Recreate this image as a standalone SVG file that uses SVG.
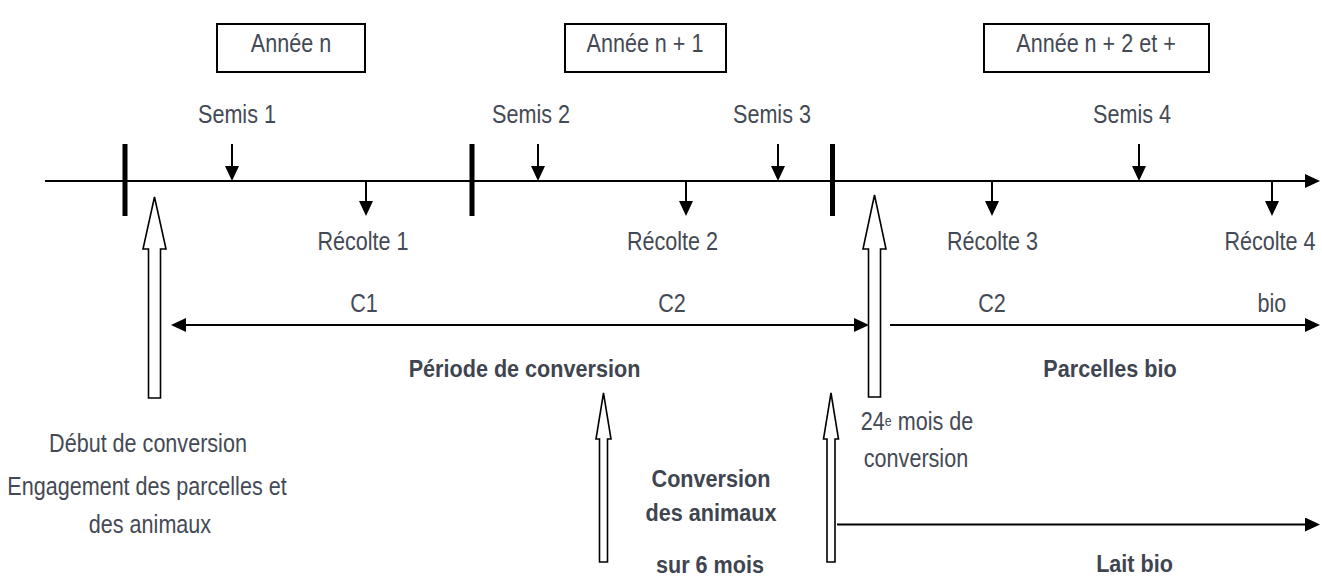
<svg xmlns="http://www.w3.org/2000/svg" width="1322" height="579" viewBox="0 0 1322 579">
<style>
  .ln { stroke: #000; stroke-width: 2; fill: none; }
  .box { stroke: #000; stroke-width: 2; fill: #fff; }
  .bar { fill: #000; }
  .blk { stroke: #000; stroke-width: 1.6; fill: #fff; stroke-linejoin: miter; }
  text { font-family: "Liberation Sans", Arial, sans-serif; font-size: 26px; fill: #444a55; text-anchor: middle; }
  .b { font-weight: bold; font-size: 24px; fill: #3f4550; }
</style>
<defs>
  <marker id="tri" viewBox="0 0 15 14" refX="4" refY="7" markerWidth="15" markerHeight="14" markerUnits="userSpaceOnUse" orient="auto-start-reverse">
    <path d="M0,0 L15,7 L0,14 Z" fill="#000"/>
  </marker>
</defs>
<rect width="1322" height="579" fill="#fff"/>

<g id="connectors">
  <line class="ln" x1="45" y1="181" x2="1309" y2="181" marker-end="url(#tri)"/>
  <line class="ln" x1="182" y1="325" x2="858" y2="325" marker-start="url(#tri)" marker-end="url(#tri)"/>
  <line class="ln" x1="890" y1="325" x2="1309" y2="325" marker-end="url(#tri)"/>
  <line class="ln" x1="837" y1="524.5" x2="1309" y2="524.5" marker-end="url(#tri)"/>
  <line class="ln" x1="232" y1="144" x2="232" y2="170" marker-end="url(#tri)"/>
  <line class="ln" x1="538" y1="144" x2="538" y2="170" marker-end="url(#tri)"/>
  <line class="ln" x1="778" y1="144" x2="778" y2="170" marker-end="url(#tri)"/>
  <line class="ln" x1="1139" y1="144" x2="1139" y2="170" marker-end="url(#tri)"/>
  <line class="ln" x1="366" y1="181" x2="366" y2="205" marker-end="url(#tri)"/>
  <line class="ln" x1="686" y1="181" x2="686" y2="205" marker-end="url(#tri)"/>
  <line class="ln" x1="992" y1="181" x2="992" y2="205" marker-end="url(#tri)"/>
  <line class="ln" x1="1272" y1="181" x2="1272" y2="205" marker-end="url(#tri)"/>
</g>

<g id="year-bars">
  <rect class="bar" x="122.5" y="144" width="5" height="72"/>
  <rect class="bar" x="469.5" y="144" width="5" height="72"/>
  <rect class="bar" x="830" y="144" width="5" height="72"/>
</g>

<g id="block-arrows">
  <path id="arrow-debut" class="blk" d="M148.5,398 L148.5,249 L143,249 L154.5,197 L166,249 L160.5,249 L160.5,398 Z"/>
  <path id="arrow-24" class="blk" d="M868.5,397 L868.5,249 L863,249 L874.5,195 L886,249 L880.5,249 L880.5,397 Z"/>
  <path id="arrow-anim1" class="blk" d="M599.5,562 L599.5,439 L596,439 L603.5,393 L611,439 L607.5,439 L607.5,562 Z"/>
  <path id="arrow-anim2" class="blk" d="M827,562 L827,439 L823.5,439 L831,393 L838.5,439 L835,439 L835,562 Z"/>
</g>

<g id="year-boxes">
  <rect class="box" x="217" y="24" width="148" height="48"/>
  <rect class="box" x="565" y="24" width="161" height="48"/>
  <rect class="box" x="984" y="24" width="225" height="48"/>
</g>

<g id="labels" transform="scale(0.83,1)">
  <g id="node-annee-n"><text x="350.6" y="52">Année n</text></g>
  <g id="node-annee-n1"><text x="777.1" y="52">Année n + 1</text></g>
  <g id="node-annee-n2"><text x="1320.5" y="52">Année n + 2 et +</text></g>

  <g id="node-semis"><text x="285.5" y="123">Semis 1</text>
  <text x="639.8" y="123">Semis 2</text>
  <text x="930.1" y="123">Semis 3</text>
  <text x="1363.9" y="123">Semis 4</text></g>

  <g id="node-recolte"><text x="437.3" y="250">Récolte 1</text>
  <text x="810.2" y="250">Récolte 2</text>
  <text x="1195.8" y="250">Récolte 3</text>
  <text x="1530.1" y="250">Récolte 4</text></g>

  <g id="node-phases"><text x="438.6" y="312">C1</text>
  <text x="809.6" y="312">C2</text>
  <text x="1195.2" y="312">C2</text>
  <text x="1532.5" y="312">bio</text></g>

  <g id="node-debut"><text x="178.3" y="452">Début de conversion</text>
  <text x="177.1" y="495">Engagement des parcelles et</text>
  <text x="180.7" y="533">des animaux</text></g>

  <g id="node-24"><text x="1104.8" y="430">24<tspan font-size="15" dy="-4">e</tspan><tspan dy="4"> mois de</tspan></text>
  <text x="1103.6" y="467">conversion</text></g>
</g>

<g id="labels-bold" transform="scale(0.9,1)">
  <g id="node-periode"><text class="b" x="582.8" y="377">Période de conversion</text></g>
  <g id="node-parcelles"><text class="b" x="1233.3" y="377">Parcelles bio</text></g>
  <g id="node-animaux"><text class="b" x="790" y="487">Conversion</text>
  <text class="b" x="790" y="521">des animaux</text>
  <text class="b" x="788.9" y="573">sur 6 mois</text></g>
  <g id="node-lait"><text class="b" x="1260.6" y="572">Lait bio</text></g>
</g>
</svg>
